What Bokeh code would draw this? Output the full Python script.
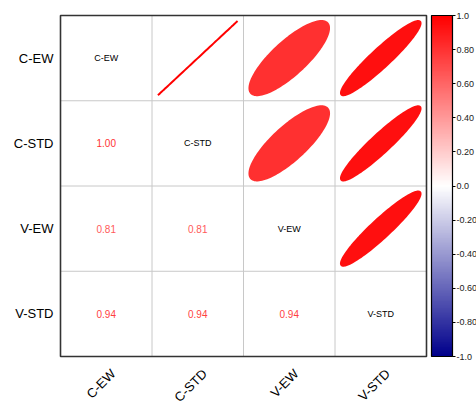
import numpy as np
from bokeh.plotting import figure
from bokeh.models import (ColumnDataSource, FixedTicker, LinearColorMapper, ColorBar)
from bokeh.core.properties import value
from bokeh.embed import file_html
from bokeh.resources import INLINE

# ---- data ----
names = ["C-EW", "C-STD", "V-EW", "V-STD"]
corr = [
    [1.00, 1.00, 0.81, 0.94],
    [1.00, 1.00, 0.81, 0.94],
    [0.81, 0.81, 1.00, 0.94],
    [0.94, 0.94, 0.94, 1.00],
]
cbar_ticks = [-1.0, -0.8, -0.6, -0.4, -0.2, 0.0, 0.2, 0.4, 0.6, 0.8, 1.0]
cbar_labels = ["-1.0", "-0.80", "-0.60", "-0.40", "-0.20", "0.0", "0.20", "0.40", "0.60", "0.80", "1.0"]

# ---- colour map: darkblue -> white -> red ----
def cmap(v):
    if v >= 0:
        c0, c1, t = np.array([255, 255, 255]), np.array([255, 0, 0]), v
    else:
        c0, c1, t = np.array([255, 255, 255]), np.array([0, 0, 139]), -v
    c = (c0 + (c1 - c0) * t).round().astype(int)
    return "#%02x%02x%02x" % tuple(c)

palette = [cmap(v) for v in np.linspace(-1, 1, 200)]

n = len(names)
FONT = "Liberation Sans"

# ---- layout (pixels) ----
W, H = 476, 406
M_LEFT, M_TOP, M_W, M_H = 60, 15, 366, 341     # matrix box
PAD = 2
fl, ft = M_LEFT - PAD, M_TOP - PAD              # frame left/top
fw = M_W + 2 * PAD
fh = H - ft
ux, uy = M_W / n, M_H / n                       # px per data unit

p = figure(width=W, height=H, frame_width=fw, frame_height=fh,
           x_range=(0.5 - PAD / ux, n + 0.5 + PAD / ux),
           y_range=(0.5 + (fh - PAD) / uy, 0.5 - PAD / uy),
           x_axis_location=None,
           output_backend="svg", toolbar_location=None,
           min_border_left=fl, min_border_top=ft, min_border_right=W - fl - fw,
           min_border_bottom=0)
p.background_fill_color = "white"
p.border_fill_color = "white"
p.outline_line_color = None
p.grid.grid_line_color = None

# y axis with names
yt = [i + 1 for i in range(n)]
ax = p.yaxis[0]
ax.ticker = FixedTicker(ticks=yt)
ax.major_label_overrides = {t: nm for t, nm in zip(yt, names)}
ax.axis_line_color = None
ax.major_tick_line_color = None
ax.minor_tick_line_color = None
ax.major_tick_in = 0
ax.major_tick_out = 0
ax.major_label_text_font = FONT
ax.major_label_text_font_size = "13px"
ax.major_label_text_color = "black"
ax.major_label_standoff = 5

# cell borders
inner = [i + 0.5 for i in range(1, n)]
p.segment(x0=inner, x1=inner, y0=[0.5] * len(inner), y1=[n + 0.5] * len(inner),
          line_color="#c8c8c8", line_width=1)
p.segment(x0=[0.5] * len(inner), x1=[n + 0.5] * len(inner), y0=inner, y1=inner,
          line_color="#c8c8c8", line_width=1)

# upper triangle: ellipses
xs, ys, fills = [], [], []
t = np.linspace(0, 2 * np.pi, 120)
s = 0.435
for i in range(n):
    for j in range(n):
        if j > i:
            r = corr[i][j]
            d = np.arccos(np.clip(r, -1, 1))
            ex = np.cos(t + d / 2) * s
            ey = np.cos(t - d / 2) * s
            xs.append(list(j + 1 + ex))
            ys.append(list(i + 1 - ey))
            fills.append(cmap(r))
p.patches(xs="xs", ys="ys", fill_color="fc", line_color="fc", line_width=2,
          source=ColumnDataSource(dict(xs=xs, ys=ys, fc=fills)))

# outer box
p.quad(left=[0.5], right=[n + 0.5], top=[0.5], bottom=[n + 0.5],
       fill_color=None, line_color="#333333", line_width=1.6)

# diagonal names
p.text(x=yt, y=yt, text=names,
       text_align="center", text_baseline="middle", text_color="black",
       text_font=value(FONT), text_font_size="9px")

# lower triangle: numbers
tx, ty, tt, tc = [], [], [], []
for i in range(n):
    for j in range(n):
        if j < i:
            r = corr[i][j]
            tx.append(j + 1); ty.append(i + 1)
            tt.append("%.2f" % r)
            tc.append(cmap(r * 0.8))
p.text(x="x", y="y", text="t", text_color="c", text_align="center",
       text_baseline="middle", text_font=value(FONT), text_font_size="10px",
       source=ColumnDataSource(dict(x=tx, y=ty, t=tt, c=tc)))

# rotated column names below the matrix
p.text(x=yt, y=[n + 0.5] * n, text=names, angle=np.pi / 4,
       x_offset=7, y_offset=15, text_align="right", text_baseline="middle",
       text_color="black", text_font=value(FONT), text_font_size="13px")

# colour bar
mapper = LinearColorMapper(palette=palette, low=-1, high=1)
cb = ColorBar(color_mapper=mapper, location=(431 - fl, H - (M_TOP + M_H)),
              width=21, height=M_H, padding=0, margin=0,
              ticker=FixedTicker(ticks=cbar_ticks),
              major_label_overrides={k: v for k, v in zip(cbar_ticks, cbar_labels)},
              major_tick_in=0, major_tick_out=3, major_tick_line_color="black",
              label_standoff=1, bar_line_color="black", bar_line_width=1.2,
              major_label_text_font=FONT, major_label_text_font_size="9px",
              major_label_text_color="#222222",
              background_fill_alpha=0, border_line_color=None)
p.add_layout(cb)

open("out.html", "w").write(file_html(p, INLINE))
